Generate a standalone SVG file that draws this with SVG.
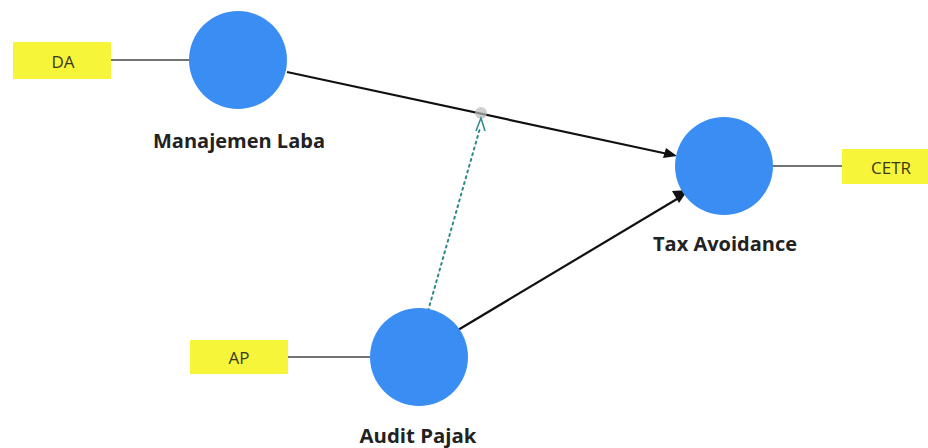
<svg xmlns="http://www.w3.org/2000/svg" width="928" height="448" viewBox="0 0 928 448">
<style>
.ind{fill:#f7f53a;}
.ind-t{font-family:"Open Sans","Noto Sans",sans-serif;font-size:17px;fill:#3a3a1a;text-anchor:middle;dominant-baseline:central;}
.lv{fill:#3a8ef3;}
.lv-t{font-family:"Open Sans","Noto Sans",sans-serif;font-size:19px;font-weight:bold;fill:#222;text-anchor:middle;}
.ln{stroke:#444;stroke-width:1.5;fill:none;}
.path{stroke:#111;stroke-width:2.2;fill:none;}
.head{fill:#111;}
.mod{stroke:#2e8a86;stroke-width:2;stroke-dasharray:2 4;stroke-linecap:round;fill:none;}
</style>
<rect width="928" height="448" fill="#fff"/>
<g id="connectors">
<line class="ln" x1="111" y1="60" x2="190" y2="60"/>
<line class="ln" x1="288" y1="357" x2="370" y2="357"/>
<line class="ln" x1="773" y1="166" x2="842" y2="166"/>
<path class="path" d="M287,72 L668,154"/>
<path class="head" d="M666,148 L677,156 L663,158 z"/>
<path class="path" d="M458,330 L682,196"/>
<path class="head" d="M672,191 L688,190 L679,203 z"/>
<line class="mod" x1="428" y1="311" x2="480" y2="128"/>
<circle cx="481" cy="113" r="6" fill="#bbb" opacity="0.7"/>
<path d="M476,131 L481,118 L485,131" stroke="#2e8a86" stroke-width="1.5" fill="none"/>
</g>
<g id="n-da">
<rect class="ind" x="13" y="42" width="98" height="37"/>
<text class="ind-t" x="63" y="61">DA</text>
</g>
<g id="n-ap">
<rect class="ind" x="190" y="340" width="98" height="34"/>
<text class="ind-t" x="239" y="357">AP</text>
</g>
<g id="n-cetr">
<rect class="ind" x="842" y="149" width="98" height="35"/>
<text class="ind-t" x="891" y="167">CETR</text>
</g>
<g id="n-ml">
<circle class="lv" cx="238" cy="60" r="49"/>
<text class="lv-t" x="239" y="148" textLength="172" lengthAdjust="spacingAndGlyphs">Manajemen Laba</text>
</g>
<g id="n-ta">
<circle class="lv" cx="724" cy="166" r="49"/>
<text class="lv-t" x="725" y="251" textLength="144" lengthAdjust="spacingAndGlyphs">Tax Avoidance</text>
</g>
<g id="n-ap-lv">
<circle class="lv" cx="419" cy="357" r="49"/>
<text class="lv-t" x="418" y="443" textLength="117" lengthAdjust="spacingAndGlyphs">Audit Pajak</text>
</g>
</svg>
